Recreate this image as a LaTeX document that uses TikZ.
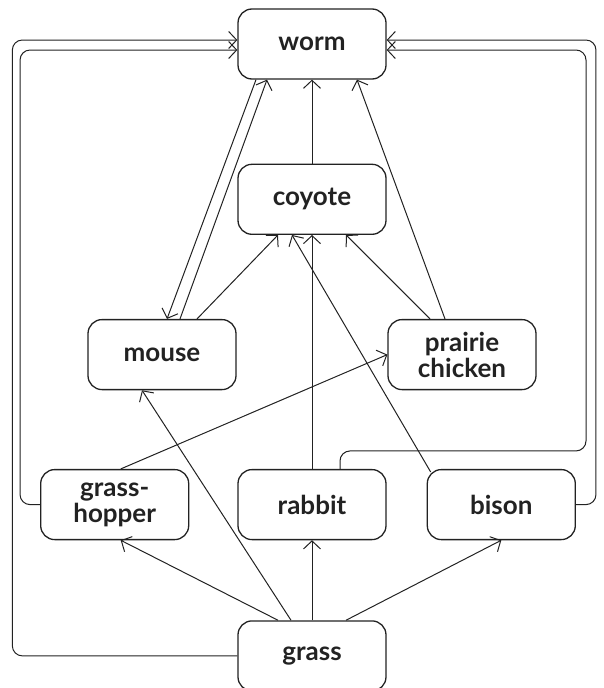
\documentclass[tikz,border=0pt]{standalone}
\usepackage{fontspec}
\setmainfont{Lato}
\usetikzlibrary{positioning,arrows.meta}
\definecolor{ink}{HTML}{222222}
\tikzset{
  blk/.style={draw=ink, line width=1.3pt, rounded corners=14pt, align=center,
              font=\fontsize{26pt}{26pt}\selectfont\bfseries, text=ink,
              minimum width=148pt, minimum height=70pt, inner sep=0pt},
  flow/.style={-{Straight Barb[length=8pt,width=17pt]}, line width=1pt, draw=ink},
}
\begin{document}
\begin{tikzpicture}[x=1pt, y=1pt, node distance=84pt]
    \useasboundingbox (0,0) rectangle (603,-688);
    \node[blk] (worm) at (312,-44) {worm};
    \node[blk, below=of worm] (coyote) {coyote};
    \node[blk, below=of coyote, xshift=-150pt] (mouse) {mouse};
    \node[blk, below=of coyote, xshift=150pt] (chicken) {prairie\\chicken};
    \node[blk, below=234pt of coyote] (rabbit) {rabbit};
    \node[blk, left=48pt of rabbit] (hopper) {grass-\\hopper};
    \node[blk, right=40pt of rabbit] (bison) {bison};
    \node[blk, below=80pt of rabbit] (grass) {grass};
    % straight up the middle
    \foreach \a/\b in {grass/rabbit, rabbit/coyote, coyote/worm}
      \draw[flow] (\a) -- (\b);
    % out of the grass
    \draw[flow] ([xshift=-34pt]grass.north) -- ([xshift=6pt]hopper.south);
    \draw[flow] ([xshift=-21pt]grass.north) -- ([xshift=-20pt]mouse.south);
    \draw[flow] ([xshift=34pt]grass.north) -- (bison.south);
    % up to coyote and worm
    \draw[flow] ([xshift=35pt]mouse.north) -- ([xshift=-34pt]coyote.south);
    \draw[flow] ([xshift=18pt]mouse.north) -- ([xshift=-45pt]worm.south);
    \draw[flow] ([xshift=-56pt]worm.south) -- ([xshift=5pt]mouse.north);
    \draw[flow] ([xshift=-32pt]chicken.north) -- ([xshift=34pt]coyote.south);
    \draw[flow] ([xshift=-17pt]chicken.north) -- ([xshift=45pt]worm.south);
    \draw[flow] ([xshift=6pt]hopper.north) -- (chicken.west);
    \draw[flow] ([xshift=4pt,yshift=-3pt]bison.north west) -- ([xshift=-20pt]coyote.south);
    % the long way round
    \draw[flow, rounded corners=10pt] (grass.west) -- ++(-225,0) |- ([yshift=4pt]worm.west);
    \draw[flow, rounded corners=10pt] (hopper.west) -- ++(-20,0) |- ([yshift=-6pt]worm.west);
    \draw[flow, rounded corners=10pt] ([xshift=28pt]rabbit.north) |- ++(246,18) |- ([yshift=-6pt]worm.east);
    \draw[flow, rounded corners=10pt] (bison.east) -- ++(20,0) |- ([yshift=4pt]worm.east);
  \end{tikzpicture}
\end{document}
